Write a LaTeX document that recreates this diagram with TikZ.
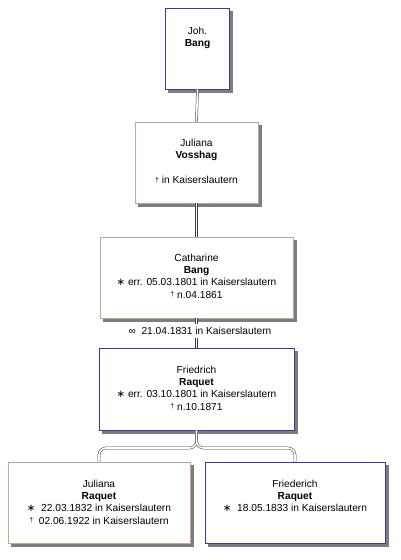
\documentclass[tikz,border=0pt]{standalone}
\usepackage{fontspec}
\setmainfont{Liberation Sans}
\newfontfamily\symfont{DejaVu Sans}
\usetikzlibrary{positioning,calc}
\definecolor{navyline}{RGB}{58,58,150}
\definecolor{tanline}{RGB}{196,164,148}
\definecolor{linkgray}{RGB}{60,60,60}
\definecolor{shadowgray}{RGB}{125,125,125}
\newcommand{\bornsym}{{\symfont ∗}}
\newcommand{\diedsym}{\raisebox{0.3ex}{\scriptsize †}}
\newcommand{\marrsym}{∞}

\begin{document}
\begin{tikzpicture}[x=1pt,y=-1pt,
    box/.style={rectangle,draw,line width=0.8pt,fill=white},
    male/.style={box,draw=navyline},
    female/.style={box,draw=tanline},
    boxshadow/.style={fill=shadowgray},
    txt/.style={align=center,inner sep=0pt,anchor=north,
      font=\fontsize{10.2}{12.4}\selectfont},
    link/.style={double,double distance=1.6pt,line width=0.5pt,draw=linkgray}]
        \useasboundingbox (0,0) rectangle (400,560);
        %Boxes
        \node[male,minimum width=64pt,minimum height=81pt] (joh) at (197.5,48.5) {};
        \node[female,minimum width=123pt,minimum height=81pt] (juliana) at (196.5,162.5) {};
        \node[female,minimum width=193pt,minimum height=81pt] (catharine) at (196.5,277.5) {};
        \node[male,minimum width=195pt,minimum height=82pt] (friedrich) at (196.5,389) {};
        \node[female,minimum width=182pt,minimum height=81pt] (julianaR) at (99,502.5) {};
        \node[male,minimum width=180pt,minimum height=81pt] (friederich) at (295,502.5) {};
        %Shadows (right and bottom strips)
        \foreach \n in {joh,juliana,catharine,friedrich,julianaR,friederich} {
          \fill[boxshadow] ($(\n.north east)+(0.4,3)$) rectangle ($(\n.south east)+(3.5,3.5)$);
          \fill[boxshadow] ($(\n.south west)+(3,0.4)$) rectangle ($(\n.south east)+(3.5,3.5)$);
        }
        %Texts
        \node[txt,below=19pt of joh.north] (joh-t) {Joh.\\\textbf{Bang}};
        \node[txt,below=17pt of juliana.north] (juliana-t)
          {Juliana\\\textbf{Vosshag}\\[13pt]\diedsym\ in Kaiserslautern};
        \node[txt,below=17pt of catharine.north] (catharine-t)
          {Catharine\\\textbf{Bang}\\\bornsym\ err. 05.03.1801 in Kaiserslautern\\\diedsym\ n.04.1861};
        \node[txt,below=18pt of friedrich.north] (friedrich-t)
          {Friedrich\\\textbf{Raquet}\\\bornsym\ err. 03.10.1801 in Kaiserslautern\\\diedsym\ n.10.1871};
        \node[txt,below=18pt of julianaR.north] (julianaR-t)
          {Juliana\\\textbf{Raquet}\\\bornsym\ \ 22.03.1832 in Kaiserslautern\\\diedsym\ \ 02.06.1922 in Kaiserslautern};
        \node[txt,below=18pt of friederich.north] (friederich-t)
          {Friederich\\\textbf{Raquet}\\\bornsym\ \ 18.05.1833 in Kaiserslautern};
        \node[txt,anchor=center,inner ysep=3pt] (marr) at (200,331) {\marrsym\ \ 21.04.1831 in Kaiserslautern};
        %Links
        \draw[link] (joh.south) -- (juliana.north);
        \draw[link] (juliana.south) -- (catharine.north);
        \draw[link] (catharine.south) -- (catharine.south |- marr.north);
        \draw[link] (catharine.south |- marr.south) -- (friedrich.north);
        \coordinate (fork) at (friedrich.south |- 0,448);
        \draw[link,rounded corners=7pt] (friedrich.south) -- (fork) -- (julianaR.north |- fork) -- (julianaR.north);
        \draw[link,rounded corners=7pt] (friedrich.south) -- (fork) -- (friederich.north |- fork) -- (friederich.north);
\end{tikzpicture}
\end{document}
